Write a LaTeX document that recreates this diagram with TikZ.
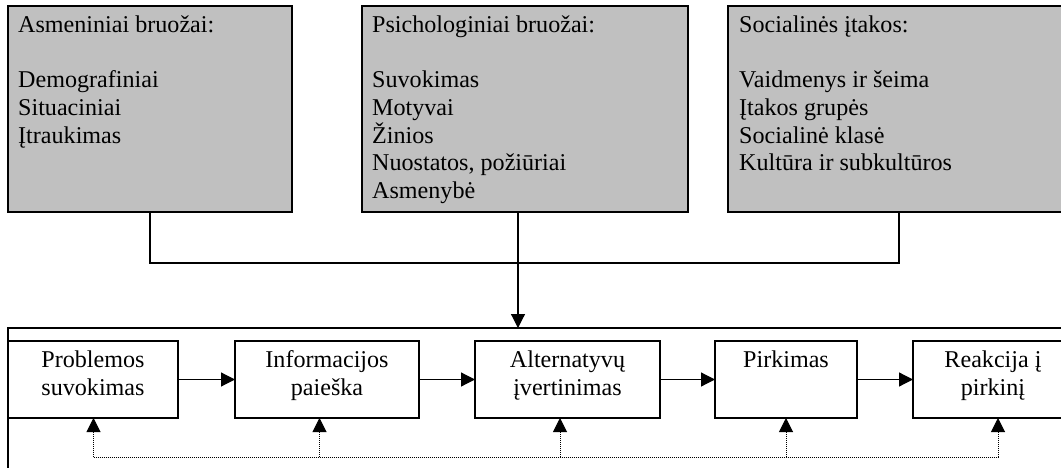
\documentclass[tikz,border=0pt]{standalone}
\usepackage{fontspec}
\setmainfont{Liberation Serif}
\usetikzlibrary{arrows.meta}
\definecolor{boxgray}{HTML}{C0C0C0}
\begin{document}
\begin{tikzpicture}[x=1pt,y=-1pt,
  every node/.style={font=\fontsize{24.1}{27.7}\selectfont},
  factorbox/.style={draw, line width=1.2pt, fill=boxgray, inner sep=0pt, outer sep=0pt,
    anchor=north west, minimum height=206pt},
  listtext/.style={anchor=north west, align=left, inner sep=0pt},
  framebox/.style={draw, line width=1.2pt, inner sep=0pt, outer sep=0pt, anchor=north west},
  stagebox/.style={draw, line width=1.2pt, fill=white, inner sep=0pt, outer sep=0pt,
    anchor=north west, minimum height=77pt},
  stagetext/.style={anchor=north, align=center, inner sep=0pt},
  link/.style={line width=1.2pt},
  flow/.style={line width=1.2pt, -{Triangle[length=14pt,width=14pt]}},
  dotline/.style={line width=1pt, dash pattern=on 1pt off 1pt},
  feedback/.style={dotline, -{Triangle[length=14pt,width=14pt]}}]
\useasboundingbox (0,0) rectangle (1061,468);
\clip (0,0) rectangle (1061,468);

% influencing factors
\node[factorbox, minimum width=284pt] (pers) at (8,6) {};
\node[factorbox, minimum width=326pt] (psy) at (362,6) {};
\node[factorbox, minimum width=342pt] (soc) at (728,6) {};

\node[listtext] (perst) at (18,15.5) {Asmeniniai bruožai:\\[27.7pt]Demografiniai\\Situaciniai\\Įtraukimas};
\node[listtext] (psyt) at (372,15.5) {Psichologiniai bruožai:\\[27.7pt]Suvokimas\\Motyvai\\Žinios\\Nuostatos, požiūriai\\Asmenybė};
\node[listtext] (soct) at (739,15.5) {Socialinės įtakos:\\[27.7pt]Vaidmenys ir šeima\\Įtakos grupės\\Socialinė klasė\\Kultūra ir subkultūros};

% decision process frame and stages
\node[framebox, minimum width=1100pt, minimum height=200pt] (proc) at (8,328) {};

\node[stagebox, minimum width=170pt] (b1) at (8,341) {};
\node[stagebox, minimum width=184pt] (b2) at (235,341) {};
\node[stagebox, minimum width=185pt] (b3) at (475,341) {};
\node[stagebox, minimum width=142pt] (b4) at (715,341) {};
\node[stagebox, minimum width=170pt] (b5) at (913,341) {};

\node[stagetext] (t1) at ([yshift=-9.5pt]b1.north) {Problemos\\suvokimas};
\node[stagetext] (t2) at ([yshift=-9.5pt]b2.north) {Informacijos\\paieška};
\node[stagetext] (t3) at ([yshift=-9.5pt]b3.north) {Alternatyvų\\įvertinimas};
\node[stagetext] (t4) at ([yshift=-9.5pt]b4.north) {Pirkimas};
\node[stagetext] (t5) at ([xshift=-5pt,yshift=-9.5pt]b5.north) {Reakcija į\\pirkinį};

% factors feed into the process
\coordinate (join) at (518,263);
\draw[link] (pers.south) -- (pers.south |- join) -- (soc.south |- join) -- (soc.south);
\draw[flow] (psy.south -| join) -- (proc.north -| join);

% stage sequence
\draw[flow] (b1.east) -- (b2.west);
\draw[flow] (b2.east) -- (b3.west);
\draw[flow] (b3.east) -- (b4.west);
\draw[flow] (b4.east) -- (b5.west);

% feedback loop
\coordinate (f1) at (93.5,457);
\coordinate (f2) at (319.5,457);
\coordinate (f3) at (560,457);
\coordinate (f4) at (786,457);
\coordinate (f5) at (998,457);
\draw[dotline] (f1) -- (f5);
\draw[feedback] (f1) -- (f1 |- b1.south);
\draw[feedback] (f2) -- (f2 |- b2.south);
\draw[feedback] (f3) -- (f3 |- b3.south);
\draw[feedback] (f4) -- (f4 |- b4.south);
\draw[feedback] (f5) -- (f5 |- b5.south);
\end{tikzpicture}
\end{document}
